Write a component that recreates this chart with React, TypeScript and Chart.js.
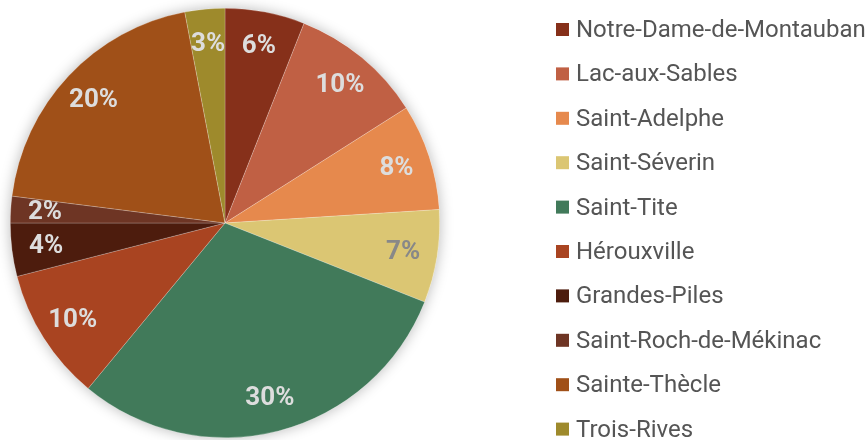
import React, { useEffect, useRef } from 'react';
import { Chart, registerables } from 'chart.js';

Chart.register(...registerables);

const categories = [
  'Notre-Dame-de-Montauban',
  'Lac-aux-Sables',
  'Saint-Adelphe',
  'Saint-Séverin',
  'Saint-Tite',
  'Hérouxville',
  'Grandes-Piles',
  'Saint-Roch-de-Mékinac',
  'Sainte-Thècle',
  'Trois-Rives',
];
const shares = [6, 10, 8, 7, 30, 10, 4, 2, 20, 3];
const sliceColors = [
  '#86301A',
  '#C06044',
  '#E6894D',
  '#DBC673',
  '#417A5A',
  '#A94421',
  '#4D1C0D',
  '#6E3524',
  '#A05018',
  '#9E8A2C',
];
const labelColors = ['#DDDDDD', '#DDDDDD', '#DDDDDD', '#888888', '#DDDDDD', '#DDDDDD', '#DDDDDD', '#DDDDDD', '#DDDDDD', '#DDDDDD'];

const FONT = 'Roboto, "Noto Sans", sans-serif';

const shadowPlugin = {
  id: 'pieShadow',
  beforeDatasetsDraw(chart: any) {
    const meta = chart.getDatasetMeta(0);
    if (!meta.data.length) return;
    const a = meta.data[0].getProps(['x', 'y', 'outerRadius'], true);
    const ctx = chart.ctx;
    ctx.save();
    ctx.shadowColor = 'rgba(0,0,0,0.28)';
    ctx.shadowBlur = 14;
    ctx.fillStyle = '#ffffff';
    ctx.beginPath();
    ctx.arc(a.x, a.y, a.outerRadius, 0, Math.PI * 2);
    ctx.fill();
    ctx.restore();
  },
};

const labelPlugin = {
  id: 'sliceLabels',
  afterDatasetsDraw(chart: any) {
    const meta = chart.getDatasetMeta(0);
    const values = chart.data.datasets[0].data as number[];
    const total = values.reduce((s, v) => s + v, 0);
    const ctx = chart.ctx;
    ctx.save();
    ctx.font = `bold 26px ${FONT}`;
    ctx.textAlign = 'center';
    ctx.textBaseline = 'middle';
    meta.data.forEach((arc: any, i: number) => {
      const p = arc.getProps(['x', 'y', 'startAngle', 'endAngle', 'outerRadius'], true);
      const mid = (p.startAngle + p.endAngle) / 2;
      const r = p.outerRadius * 0.84;
      ctx.fillStyle = labelColors[i];
      ctx.fillText(`${Math.round((values[i] / total) * 100)}%`, p.x + Math.cos(mid) * r, p.y + Math.sin(mid) * r + 1);
    });
    ctx.restore();
  },
};

const legendPlugin = {
  id: 'sideLegend',
  afterDraw(chart: any) {
    const ctx = chart.ctx;
    const labels = chart.data.labels as string[];
    const colors = chart.data.datasets[0].backgroundColor as string[];
    ctx.save();
    ctx.font = `24px ${FONT}`;
    ctx.textAlign = 'left';
    ctx.textBaseline = 'alphabetic';
    labels.forEach((lab, i) => {
      const cy = 29.5 + i * 44.4;
      ctx.fillStyle = colors[i];
      ctx.fillRect(556, cy - 6.5, 13, 13);
      ctx.fillStyle = '#555555';
      ctx.fillText(lab, 576, cy + 7.5);
    });
    ctx.restore();
  },
};

export default function App() {
  const ref = useRef<HTMLCanvasElement | null>(null);
  useEffect(() => {
    if (!ref.current) return;
    const chart = new Chart(ref.current, {
      type: 'pie',
      data: {
        labels: categories,
        datasets: [
          {
            data: shares,
            backgroundColor: sliceColors,
            borderColor: 'rgba(255,255,255,0.35)',
            borderWidth: 0.6,
          },
        ],
      },
      options: {
        animation: false,
        responsive: true,
        maintainAspectRatio: false,
        layout: { padding: { left: 10, right: 425, top: 8, bottom: 2 } },
        plugins: {
          legend: { display: false },
          tooltip: { enabled: false },
        },
      },
      plugins: [shadowPlugin, labelPlugin, legendPlugin],
    });
    return () => chart.destroy();
  }, []);
  return (
    <div style={{ position: 'absolute', left: 0, top: 0, width: 865, height: 440 }}>
      <canvas ref={ref} />
    </div>
  );
}
